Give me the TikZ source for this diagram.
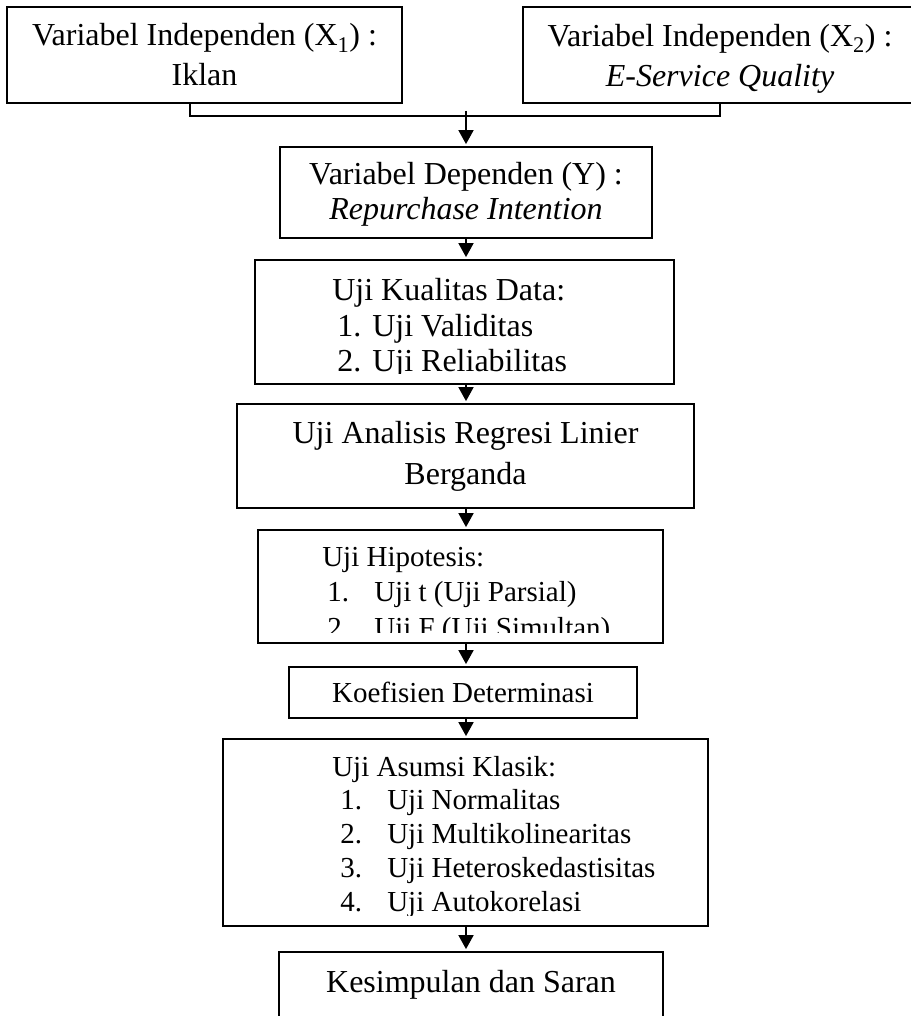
\documentclass[tikz,border=0pt]{standalone}
\usepackage{fontspec}
\setmainfont{Liberation Serif}
\usepackage{tikz}
\usetikzlibrary{calc}
\usetikzlibrary{arrows.meta}
\tikzstyle{flowbox} = [draw, rectangle, line width=1.8pt, inner sep=0pt, align=center, font=\fontsize{32}{40}\selectfont]
\tikzstyle{listline} = [inner sep=0pt, anchor=base west, font=\fontsize{29}{35}\selectfont]
\tikzstyle{biglistline} = [inner sep=0pt, anchor=base west, font=\fontsize{32}{36}\selectfont]
\tikzstyle{flowarrow} = [line width=1.8pt, -{Triangle[length=14pt,width=15pt]}, shorten >=2pt]
\tikzstyle{joinline} = [line width=1.8pt]
\newcommand{\nodepth}[1]{\raisebox{0pt}[\height][0pt]{#1}}

\begin{document}
\begin{tikzpicture}[x=1pt, y=-1pt]
    \useasboundingbox (0,0) rectangle (910,1016);

    \node[flowbox, minimum width=395pt, minimum height=96pt] (indep_iklan) at (204.5,55) {Variabel Independen (X\textsubscript{1}) :\\Iklan};
    \node[flowbox, minimum width=394pt, minimum height=96pt] (indep_quality) at ($(indep_iklan)+(515.5,0)$) {Variabel Independen (X\textsubscript{2}) :\\\nodepth{\textit{E-Service Quality}}};

    \node[flowbox, minimum width=372pt, minimum height=91pt, font=\fontsize{32}{35}\selectfont] (dependen) at (466,192.5) {\raisebox{0pt}[18pt]{Variabel Dependen (Y) :}\\\nodepth{\textit{Repurchase Intention}}};
    \node[flowbox, minimum width=419pt, minimum height=124pt] (kualitas) at ($(dependen)+(-1.5,129.5)$) {};
    \node[flowbox, minimum width=457pt, minimum height=104pt, font=\fontsize{32}{41}\selectfont] (regresi) at ($(kualitas)+(1,134)$) {Uji Analisis Regresi Linier\\Berganda};
    \node[flowbox, minimum width=405pt, minimum height=113pt] (hipotesis) at ($(regresi)+(-5,130.5)$) {};
    \node[flowbox, minimum width=348pt, minimum height=51pt, font=\fontsize{29}{35}\selectfont] (koefisien) at ($(hipotesis)+(2.5,106)$) {Koefisien Determinasi};
    \node[flowbox, minimum width=485pt, minimum height=187pt] (asumsi) at ($(koefisien)+(2.5,140)$) {};
    \node[flowbox, minimum width=384pt, minimum height=80pt, text height=22pt, text depth=22pt] (kesimpulan) at ($(asumsi)+(5.5,159.5)$) {Kesimpulan dan Saran};

    % list texts, cut off at the bottom like the text boxes
    \begin{scope}
        \clip (kualitas.north west) rectangle ($(kualitas.south east)+(0,-11)$);
        \node[biglistline] (kualitas_head) at ($(kualitas.north west)+(78,41)$) {Uji Kualitas Data:};
        \node[biglistline] (kualitas_one) at ($(kualitas.north west)+(83,77)$) {\makebox[35pt][l]{1.}Uji Validitas};
        \node[biglistline] (kualitas_two) at ($(kualitas.north west)+(83,112)$) {\makebox[35pt][l]{2.}Uji Reliabilitas};
    \end{scope}
    \begin{scope}
        \clip (hipotesis.north west) rectangle ($(hipotesis.south east)+(0,-11)$);
        \node[listline] (hipotesis_head) at ($(hipotesis.north west)+(65,37)$) {Uji Hipotesis:};
        \node[listline] (hipotesis_one) at ($(hipotesis.north west)+(70,72)$) {\makebox[47pt][l]{1.}Uji t (Uji Parsial)};
        \node[listline] (hipotesis_two) at ($(hipotesis.north west)+(70,108)$) {\makebox[47pt][l]{2.}Uji F (Uji Simultan)};
    \end{scope}
    \begin{scope}
        \clip (asumsi.north west) rectangle ($(asumsi.south east)+(0,-11)$);
        \node[listline] (asumsi_head) at ($(asumsi.north west)+(110,38)$) {Uji Asumsi Klasik:};
        \node[listline] (asumsi_one) at ($(asumsi.north west)+(118,71)$) {\makebox[47pt][l]{1.}Uji Normalitas};
        \node[listline] (asumsi_two) at ($(asumsi.north west)+(118,105)$) {\makebox[47pt][l]{2.}Uji Multikolinearitas};
        \node[listline] (asumsi_three) at ($(asumsi.north west)+(118,139)$) {\makebox[47pt][l]{3.}Uji Heteroskedastisitas};
        \node[listline] (asumsi_four) at ($(asumsi.north west)+(118,173)$) {\makebox[47pt][l]{4.}Uji Autokorelasi};
    \end{scope}

    % joining line under the two independent variables
    \coordinate (join_left) at (190,116);
    \coordinate (join_right) at (720,116);
    \coordinate (merge) at (466,111);
    \coordinate (spine) at (466,0);
    \draw[joinline] (join_left |- indep_iklan.south) -- (join_left) -- (join_right) -- (join_right |- indep_quality.south);
    \draw[flowarrow] (merge) -- (merge |- dependen.north);

    \draw[flowarrow] (dependen.south -| spine) -- (kualitas.north -| spine);
    \draw[flowarrow] (kualitas.south -| spine) -- (regresi.north -| spine);
    \draw[flowarrow] (regresi.south -| spine) -- (hipotesis.north -| spine);
    \draw[flowarrow] (hipotesis.south -| spine) -- (koefisien.north -| spine);
    \draw[flowarrow] (koefisien.south -| spine) -- (asumsi.north -| spine);
    \draw[flowarrow] (asumsi.south -| spine) -- (kesimpulan.north -| spine);
\end{tikzpicture}
\end{document}
